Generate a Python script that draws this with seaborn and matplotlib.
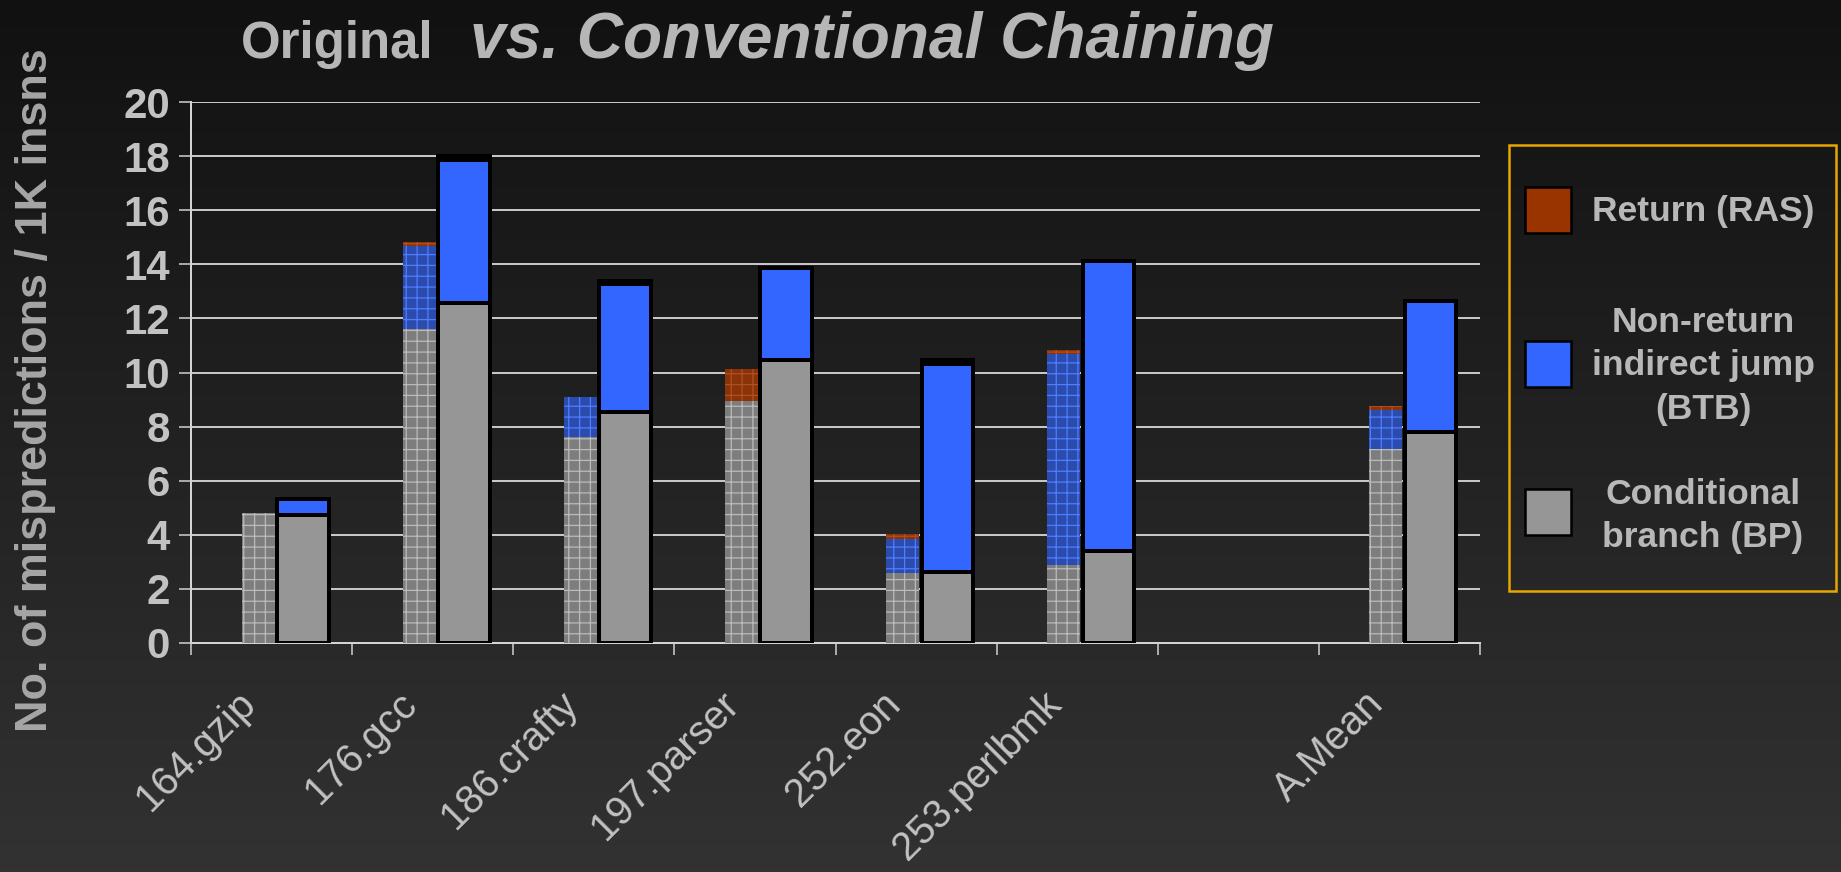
import numpy as np
import pandas as pd
import seaborn as sns
import matplotlib.pyplot as plt
import matplotlib.transforms as mtransforms
from matplotlib.patches import Rectangle
from matplotlib.colors import LinearSegmentedColormap

W, H, DPI = 1841, 872, 65


def pt(px):
    # sizes below are read in pixels off the reference
    return px * 72 / DPI


# ---- data ----
categories = ["164.gzip", "176.gcc", "186.crafty", "197.parser",
              "252.eon", "253.perlbmk", "", "A.Mean"]
orig_cond = [4.8, 11.6, 7.6, 8.94, 2.6, 2.88, 7.16]
orig_btb = [0.0, 3.07, 1.49, 0.0, 1.25, 7.8, 1.45]
orig_ras = [0.0, 0.15, 0.0, 1.19, 0.18, 0.15, 0.15]
chain_cond = [4.73, 12.56, 8.55, 10.46, 2.64, 3.39, 7.8]
chain_btb = [0.58, 5.29, 4.72, 3.4, 7.66, 10.73, 4.84]
chain_ras = [0.0, 0.15, 0.13, 0.0, 0.15, 0.0, 0.0]
yticks = list(range(0, 21, 2))
legend_labels = ["Return (RAS)", "Non-return\nindirect jump\n(BTB)",
                 "Conditional\nbranch (BP)"]

sns.set_style("ticks")
plt.rcParams["font.family"] = ["Liberation Sans", "DejaVu Sans"]
plt.rcParams["hatch.linewidth"] = 1.4

TXT = "#c2c2c2"
fig = plt.figure(figsize=(W / DPI, H / DPI), dpi=DPI)

# dark gradient background
bg = fig.add_axes([0, 0, 1, 1], zorder=-10)
grad = np.linspace(0, 1, 256).reshape(-1, 1)
cmap = LinearSegmentedColormap.from_list("bg", ["#111111", "#323232"])
bg.imshow(grad, aspect="auto", cmap=cmap, extent=[0, 1, 0, 1], origin="upper")
bg.set_axis_off()

ax = fig.add_axes([191 / W, 1 - 643 / H, 1289 / W, 541 / H])
ax.set_facecolor("none")

slots = [i for i, c in enumerate(categories) if c]
names = [c for c in categories if c]


def stack(pos, layers, faces, edges, width, lw, hatch=None):
    bottom = np.zeros(len(pos))
    for vals, fc, ec in zip(layers, faces, edges):
        df = pd.DataFrame({"x": pos, "y": vals})
        sns.barplot(data=df, x="x", y="y", native_scale=True, width=width,
                    color=fc, saturation=1, errorbar=None, ax=ax,
                    bottom=bottom.copy(), edgecolor=ec, linewidth=lw,
                    hatch=hatch, zorder=3)
        bottom += np.asarray(vals)


# original (hatched, left of slot centre)
stack(np.array(slots) - 0.084, [orig_cond, orig_btb, orig_ras],
      ["#7d7d7d", "#2b4bad", "#8a3208"], ["#bababa", "#4f7dff", "#b04f22"],
      0.205, 0, hatch="+")
# conventional chaining (solid, outlined)
stack(np.array(slots) + 0.194, [chain_cond, chain_btb, chain_ras],
      ["#969696", "#3366ff", "#993300"], ["black"] * 3, 0.32, pt(4))

ax.set_xlim(-0.5, len(categories) - 0.5)
ax.set_ylim(0, 20)
ax.set_axisbelow(True)
ax.yaxis.grid(True, color="#c6c6c6", lw=pt(2))
ax.xaxis.grid(False)
for s in ["top", "right"]:
    ax.spines[s].set_visible(False)
for s in ["left", "bottom"]:
    ax.spines[s].set_color("#d4d4d4")
    ax.spines[s].set_linewidth(pt(2))

ax.set_yticks(yticks)
ax.set_yticklabels([str(v) for v in yticks], fontweight="bold")
ax.tick_params(axis="y", length=pt(12), width=pt(1.5), color="#d4d4d4",
               pad=pt(9), labelcolor=TXT, labelsize=pt(42))

ax.set_xticks(slots)
ax.set_xticklabels(names, rotation=45, ha="right", va="center",
                   rotation_mode="anchor")
ax.set_xticks(np.arange(-0.5, len(categories), 1), minor=True)
ax.tick_params(axis="x", which="major", length=0, pad=0,
               labelcolor=TXT, labelsize=pt(40))
ax.tick_params(axis="x", which="minor", length=pt(12), width=pt(1.5),
               color="#d4d4d4")
shift = mtransforms.ScaledTranslation(-22 / DPI, -55 / DPI, fig.dpi_scale_trans)
for lab in ax.get_xticklabels():
    lab.set_transform(lab.get_transform() + shift)
ax.set_xlabel("")

ax.set_ylabel("No. of mispredictions / 1K insns", fontsize=pt(45),
              fontweight="bold", color="#a6a6a6", va="center")
ax.yaxis.set_label_coords(-0.121, 0.468)

# title
fig.text(241 / W, 1 - 58 / H, "Original", fontsize=pt(51), fontweight="bold",
         color="#b6b6b6", va="baseline")
fig.text(470 / W, 1 - 58 / H, "vs. Conventional Chaining", fontsize=pt(64),
         fontweight="bold", fontstyle="italic", color="#b6b6b6", va="baseline")

# legend box
fig.add_artist(Rectangle((1509 / W, 1 - 591 / H), 327 / W, 446 / H,
                         transform=fig.transFigure, fill=False,
                         edgecolor="#e6a500", lw=pt(2.5)))
leg_faces = ["#993300", "#3366ff", "#969696"]
leg_patch_y = [210, 364, 512]
leg_text_y = [212, 366, 516]
for fc, py, ty, lab in zip(leg_faces, leg_patch_y, leg_text_y, legend_labels):
    fig.add_artist(Rectangle(((1548 - 23) / W, 1 - (py + 23) / H), 46 / W, 46 / H,
                             transform=fig.transFigure, facecolor=fc,
                             edgecolor="black", lw=pt(2.5)))
    fig.text(1703 / W, 1 - ty / H, lab, fontsize=pt(35.5), fontweight="bold",
             color="#b8b8b8", ha="center", va="center", multialignment="center",
             linespacing=1.4)

fig.savefig("out.png", dpi=DPI)
